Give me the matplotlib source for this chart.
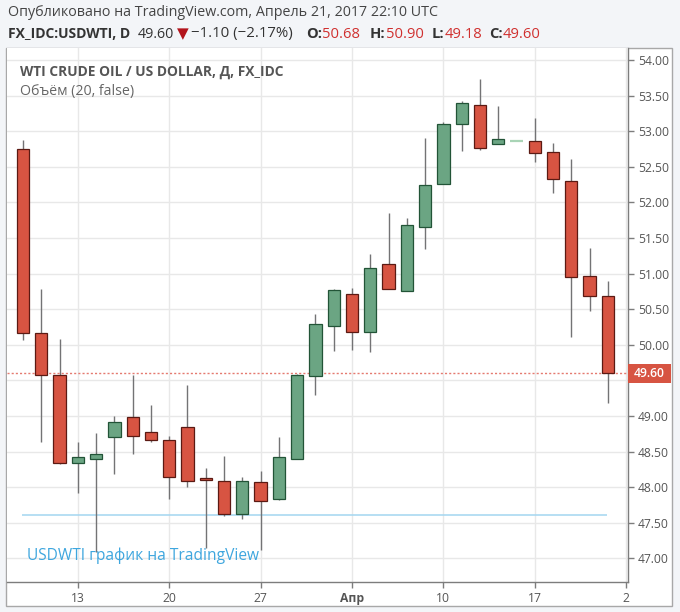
import matplotlib
matplotlib.use('Agg')
import matplotlib.pyplot as plt
import matplotlib.transforms as mtransforms
from matplotlib.patches import Rectangle

# ---------------- data ----------------
dates = ['Mar 8', 'Mar 9', 'Mar 10', 'Mar 13', 'Mar 14', 'Mar 15', 'Mar 16', 'Mar 17',
         'Mar 20', 'Mar 21', 'Mar 22', 'Mar 23', 'Mar 24', 'Mar 27', 'Mar 28', 'Mar 29',
         'Mar 30', 'Mar 31', 'Apr 3', 'Apr 4', 'Apr 5', 'Apr 6', 'Apr 7', 'Apr 10',
         'Apr 11', 'Apr 12', 'Apr 13', 'Apr 14', 'Apr 17', 'Apr 18', 'Apr 19', 'Apr 20', 'Apr 21']
opens = [52.75, 50.16, 49.57, 48.34, 48.40, 48.70, 48.98, 48.77,
         48.66, 48.84, 48.13, 48.09, 47.63, 48.07, 47.83, 48.39,
         49.56, 50.26, 50.72, 50.18, 51.14, 50.76, 51.66, 52.26,
         53.10, 53.37, 52.82, 52.86, 52.86, 52.71, 52.30, 50.97, 50.68]
highs = [52.88, 50.79, 50.08, 48.64, 48.76, 49.00, 49.58, 49.16,
         48.72, 49.44, 48.27, 48.44, 48.15, 48.23, 48.70, 49.59,
         50.44, 50.78, 50.80, 51.28, 51.85, 51.78, 52.91, 53.13,
         53.42, 53.73, 53.35, 52.86, 53.19, 52.83, 52.61, 51.36, 50.90]
lows = [50.07, 48.63, 48.33, 47.92, 47.09, 48.19, 48.47, 48.63,
        47.84, 48.01, 47.15, 47.60, 47.56, 47.12, 47.82, 48.39,
        49.30, 49.92, 49.93, 49.90, 50.78, 50.76, 51.35, 52.26,
        52.72, 52.74, 52.82, 52.86, 52.57, 52.13, 50.11, 50.48, 49.18]
closes = [50.16, 49.57, 48.34, 48.43, 48.46, 48.91, 48.72, 48.66,
          48.14, 48.09, 48.10, 47.63, 48.09, 47.80, 48.42, 49.57,
          50.29, 50.77, 50.18, 51.08, 50.78, 51.68, 52.25, 53.10,
          53.39, 52.77, 52.89, 52.86, 52.70, 52.33, 50.95, 50.68, 49.60]

x_tick_pos = [3, 8, 13, 18, 23, 28, 33]
x_tick_labels = ['13', '20', '27', 'Апр', '10', '17', '2']
y_ticks = [47.0, 47.5, 48.0, 48.5, 49.0, 49.5, 50.0, 50.5, 51.0, 51.5, 52.0, 52.5, 53.0, 53.5, 54.0]
last_price = 49.60
level_line = 47.61

# ---------------- style ----------------
UP = '#6ba583'
DOWN = '#d75442'
UP_EDGE = '#225437'
DOWN_EDGE = '#5b1a13'
WICK = '#737375'
FLAT = '#a9d4b6'
TXT = '#555555'
FONT = ['Open Sans', 'DejaVu Sans']
plt.rcParams['font.family'] = FONT

W, H = 680, 612
fig = plt.figure(figsize=(W / 100, H / 100), dpi=100, facecolor='#f3f5f8')


def fx(px):
    return px / W


def fy(py):
    return 1 - py / H


# white chart panel with frame
fig.patches.append(Rectangle((fx(6), fy(606)), fx(672) - fx(6), fy(48) - fy(606),
                             transform=fig.transFigure, facecolor='white',
                             edgecolor='#a8a8a8', linewidth=1, zorder=-5))

ax = fig.add_axes([fx(7), fy(582), fx(628) - fx(7), fy(48) - fy(582)])
ax.set_zorder(2)
ax.set_facecolor('white')
ax.set_xlim(-0.875, 33.1)
ax.set_ylim(46.669, 54.169)

for s in ['top', 'left']:
    ax.spines[s].set_visible(False)
for s in ['right', 'bottom']:
    ax.spines[s].set_color('#7d7d7d')
    ax.spines[s].set_linewidth(1)

ax.yaxis.tick_right()
ax.set_yticks(y_ticks)
ax.set_yticklabels(['' if abs(v - last_price) < 0.2 else '%.2f' % v for v in y_ticks])
ax.set_xticks(x_tick_pos)
ax.set_xticklabels(x_tick_labels)
for lbl in ax.get_xticklabels():
    if lbl.get_text() == 'Апр':
        lbl.set_fontweight('bold')
ax.tick_params(axis='both', direction='out', length=4, color='#7d7d7d',
               labelcolor=TXT, labelsize=8.7, width=1)
ax.tick_params(axis='y', pad=3)
ax.tick_params(axis='x', pad=3)
ax.grid(True, color='#e8e8e8', linewidth=1)
ax.set_axisbelow(True)

# candles
xs = list(range(len(dates)))
body_w = 0.67
for i in xs:
    o, h, l, c = opens[i], highs[i], lows[i], closes[i]
    if h == l:
        ax.hlines(o, i - body_w / 2, i + body_w / 2, color=FLAT, linewidth=1.6, zorder=3)
        continue
    up = c >= o
    ax.vlines(i, l, h, color=WICK, linewidth=1, zorder=2)
    ax.bar(i, abs(c - o), bottom=min(o, c), width=body_w,
           color=UP if up else DOWN, edgecolor=UP_EDGE if up else DOWN_EDGE,
           linewidth=0.9, zorder=3)

# horizontal lines
ax.axhline(last_price, color='#e57a70', linestyle=(0, (1.5, 1.5)), linewidth=1, zorder=1)
ax.hlines(level_line, -0.05, 31.95, color='#a3d6f0', linewidth=1.1, zorder=1)

# last price label
trans = mtransforms.blended_transform_factory(ax.transAxes, ax.transData)
ax.add_patch(Rectangle((1.0, last_price - 0.135), (671 - 628) / 621, 0.27, transform=trans,
                       facecolor=DOWN, edgecolor='none', clip_on=False, zorder=5))
ax.text(1.0 + (671 - 628) / 621 / 2, last_price, '%.2f' % last_price, transform=trans,
        ha='center', va='center', color='white', fontsize=8.7, fontweight='semibold',
        zorder=6, clip_on=False)

# texts inside chart
ax.text(fx(20), fy(72), 'WTI CRUDE OIL / US DOLLAR, Д, FX_IDC', transform=fig.transFigure,
        fontsize=9.9, fontweight='bold', color=TXT, va='center', ha='left')
ax.text(fx(20), fy(91), 'Объём (20, false)', transform=fig.transFigure,
        fontsize=10.2, color='#666666', va='center', ha='left')
ax.text(fx(27), fy(556), 'USDWTI график на TradingView', transform=fig.transFigure,
        fontsize=11.2, color='#3ea6de', va='center', ha='left')

# header
fig.text(fx(8), fy(12), 'Опубликовано на TradingView.com, Апрель 21, 2017 22:10 UTC',
         fontsize=10.3, color='#444444', va='center', ha='left')

renderer = fig.canvas.get_renderer()
# (text, weight, colour, size, x start in pixels, or gap after previous when negative)
segments = [
    ('FX_IDC:USDWTI, D', 'bold', '#333333', 10.0, 8),
    ('49.60', 'normal', '#333333', 10.3, 138),
    ('▼', 'normal', '#b3141c', 11.0, -3),
    ('−1.10 (−2.17%)', 'normal', '#333333', 10.8, -2),
    ('O:', 'bold', '#333333', 10.6, 306),
    ('50.68', 'normal', '#d0302f', 10.6, 0),
    ('H:', 'bold', '#333333', 10.6, 370),
    ('50.90', 'normal', '#d0302f', 10.6, 0),
    ('L:', 'bold', '#333333', 10.6, 432),
    ('49.18', 'normal', '#d0302f', 10.6, 0),
    ('C:', 'bold', '#333333', 10.6, 489),
    ('49.60', 'normal', '#d0302f', 10.6, 0),
]
xpos = 8
for txt, weight, col, size, start in segments:
    if start > 0:
        xpos = start
    else:
        xpos += -start
    fam = ['DejaVu Sans'] if txt == '▼' else FONT
    t = fig.text(fx(xpos), fy(34), txt, fontsize=size, fontweight=weight, color=col,
                 va='center', ha='left', family=fam)
    bb = t.get_window_extent(renderer=renderer)
    xpos += bb.width

fig.savefig('out.png', dpi=100, facecolor=fig.get_facecolor())
